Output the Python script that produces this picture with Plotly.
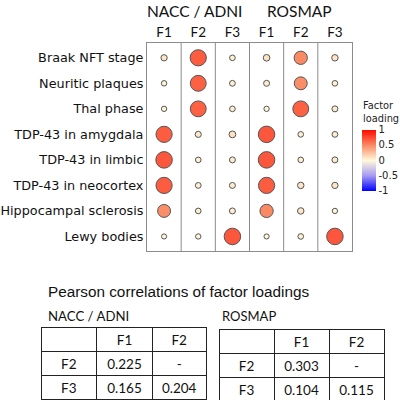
import plotly.graph_objects as go

rows = ["Braak NFT stage", "Neuritic plaques", "Thal phase", "TDP-43 in amygdala",
        "TDP-43 in limbic", "TDP-43 in neocortex", "Hippocampal sclerosis", "Lewy bodies"]
factors = ["F1", "F2", "F3"]
cohorts = ["NACC / ADNI", "ROSMAP"]

nacc_f1 = [0.08, 0.03, 0.02, 0.68, 0.70, 0.68, 0.48, 0.01]
nacc_f2 = [0.68, 0.66, 0.66, 0.07, 0.04, 0.05, 0.04, 0.02]
nacc_f3 = [0.04, 0.05, 0.04, 0.11, 0.06, 0.06, 0.06, 0.70]
ros_f1 = [0.10, 0.06, 0.02, 0.70, 0.70, 0.68, 0.50, 0.01]
ros_f2 = [0.50, 0.48, 0.66, 0.04, 0.04, 0.09, 0.09, 0.04]
ros_f3 = [0.09, 0.04, 0.06, 0.05, 0.06, 0.08, 0.02, 0.70]

loadings = {
    ("NACC / ADNI", "F1"): nacc_f1, ("NACC / ADNI", "F2"): nacc_f2, ("NACC / ADNI", "F3"): nacc_f3,
    ("ROSMAP", "F1"): ros_f1, ("ROSMAP", "F2"): ros_f2, ("ROSMAP", "F3"): ros_f3,
}

corr_title = "Pearson correlations of factor loadings"
corr_cols = ["", "F1", "F2"]
corr_rows = ["F2", "F3"]
nacc_corr_f1 = ["0.225", "0.165"]
nacc_corr_f2 = ["-", "0.204"]
ros_corr_f1 = ["0.303", "0.104"]
ros_corr_f2 = ["-", "0.115"]

col_ids = [f"{c}|{f}" for c in cohorts for f in factors]
xs, ys, vs = [], [], []
for c in cohorts:
    for f in factors:
        for r, v in zip(rows, loadings[(c, f)]):
            xs.append(f"{c}|{f}")
            ys.append(r)
            vs.append(v)
sizes = [5 + 16.5 * abs(v) for v in vs]

cscale = [[0.0, "#0000ff"], [0.25, "#a69af2"], [0.5, "#fff9dc"], [0.75, "#fa8a64"], [1.0, "#ff0a00"]]

fig = go.Figure()
fig.add_trace(go.Scatter(
    x=xs, y=ys, mode="markers",
    marker=dict(size=sizes, color=vs, cmin=-1, cmax=1, colorscale=cscale,
                line=dict(color="#555555", width=1), opacity=1,
                colorbar=dict(tickvals=[1, 0.5, 0, -0.5, -1], ticktext=["1", "0.5", "0", "-0.5", "-1"],
                              ticks="", outlinewidth=0, thickness=14, xpad=0, ypad=0,
                              lenmode="pixels", len=61, x=362 / 400, xanchor="left",
                              y=1 - 160 / 400, yanchor="middle",
                              tickfont=dict(family="DejaVu Sans", size=10, color="#222"))),
    hoverinfo="skip", showlegend=False))

# column dividers
for i in range(1, 6):
    fig.add_shape(type="line", xref="x", yref="paper", x0=i - 0.5, x1=i - 0.5,
                  y0=1 - 251 / 400, y1=1 - 43 / 400, line=dict(color="#8c8c8c", width=1))

tfont = dict(family="Lato", size=13.5, color="#111")
fig.add_trace(go.Table(
    domain=dict(x=[41 / 400, 206 / 400], y=[0.0, 1 - 327 / 400]),
    columnwidth=[56, 56, 54],
    header=dict(values=corr_cols, height=24, fill_color="white", line=dict(color="#222", width=1),
                font=tfont, align="center"),
    cells=dict(values=[corr_rows, nacc_corr_f1, nacc_corr_f2], height=24, fill_color="white",
               line=dict(color="#222", width=1), font=tfont, align="center")))
fig.add_trace(go.Table(
    domain=dict(x=[219 / 400, 384 / 400], y=[0.0, 1 - 329 / 400]),
    columnwidth=[55, 55, 55],
    header=dict(values=corr_cols, height=24, fill_color="white", line=dict(color="#222", width=1),
                font=tfont, align="center"),
    cells=dict(values=[corr_rows, ros_corr_f1, ros_corr_f2], height=24, fill_color="white",
               line=dict(color="#222", width=1), font=tfont, align="center")))

annos = [
    dict(text=cohorts[0], x=194 / 400, y=1 - 11 / 400, font=dict(family="Lato", size=15.5, color="#111")),
    dict(text=cohorts[1], x=299 / 400, y=1 - 11 / 400, font=dict(family="Lato", size=15.5, color="#111")),
    dict(text="Factor<br>loading", x=361 / 400, y=1 - 112 / 400, xanchor="left", align="left",
         font=dict(family="DejaVu Sans", size=9.8, color="#222")),
    dict(text=corr_title, x=46 / 400, y=1 - 291 / 400, xanchor="left",
         font=dict(family="Liberation Sans", size=15.3, color="#111")),
    dict(text=cohorts[0], x=46 / 400, y=1 - 316 / 400, xanchor="left",
         font=dict(family="Lato", size=13.2, color="#111")),
    dict(text=cohorts[1], x=220 / 400, y=1 - 316 / 400, xanchor="left",
         font=dict(family="Lato", size=13, color="#111")),
]
for a in annos:
    a.update(xref="paper", yref="paper", showarrow=False, yanchor="middle")
    a.setdefault("xanchor", "center")
    fig.add_annotation(**a)

fig.update_layout(
    width=400, height=400, margin=dict(l=0, r=0, t=0, b=0, autoexpand=False),
    paper_bgcolor="white", plot_bgcolor="white",
    xaxis=dict(domain=[147 / 400, 352 / 400], type="category", categoryorder="array",
               categoryarray=col_ids, tickvals=col_ids, ticktext=[f for c in cohorts for f in factors],
               side="top", range=[-0.5, 5.5], showgrid=False, zeroline=False, ticks="",
               showline=True, mirror=True, linecolor="#8c8c8c", linewidth=1, automargin=False,
               tickfont=dict(family="Lato", size=13.5, color="#111")),
    yaxis=dict(domain=[1 - 251 / 400, 1 - 43 / 400], type="category", categoryorder="array",
               categoryarray=rows, range=[7.57, -0.58], showgrid=False, zeroline=False, ticks="",
               showline=True, mirror=True, linecolor="#8c8c8c", linewidth=1, automargin=False,
               tickfont=dict(family="DejaVu Sans", size=12.8, color="#111")),
)

fig.write_html("out.html", config={"displayModeBar": False},
               post_script="document.body.style.margin='0px';")
